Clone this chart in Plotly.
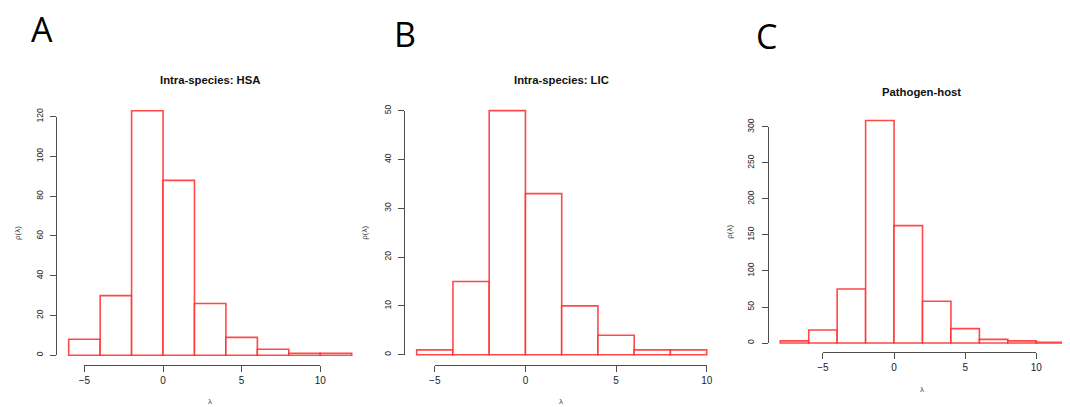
import plotly.graph_objects as go

# The page body adds an 8 px margin, so the figure is drawn 8 px in from the
# window's corner; all positions below are given in window pixels.
OFF = 8
W, H = 1070 - OFF, 407 - OFF

# ---- data (histogram counts) ----
hsa_edges = [-6, -4, -2, 0, 2, 4, 6, 8, 10, 12]
hsa_counts = [8, 30, 123, 88, 26, 9, 3, 1, 1]

lic_edges = [-6, -4, -2, 0, 2, 4, 6, 8, 10]
lic_counts = [1, 15, 50, 33, 10, 4, 1, 1]

ph_edges = [-8, -6, -4, -2, 0, 2, 4, 6, 8, 10, 12]
ph_counts = [3, 18, 75, 309, 163, 58, 20, 5, 3, 1]

x_ticks = [-5, 0, 5, 10]
hsa_yticks = [0, 20, 40, 60, 80, 100, 120]
lic_yticks = [0, 10, 20, 30, 40, 50]
ph_yticks = [0, 50, 100, 150, 200, 250, 300]

titles = ["Intra-species: HSA", "Intra-species: LIC", "Pathogen-host"]
letters = ["A", "B", "C"]

# ---- layout geometry (window pixels) ----
panels = [
    dict(edges=hsa_edges, counts=hsa_counts, yt=hsa_yticks,
         px_x=(57.4, 363.0), px_y=(101, 365), xr=None, cx=210,
         title_y=80, letter=(42, 29), ylab_x=17, xlab_y=401),
    dict(edges=lic_edges, counts=lic_counts, yt=lic_yticks,
         px_x=(405.1, 718.3), px_y=(100.9, 364.5), xr=None, cx=561,
         title_y=80, letter=(405, 34), ylab_x=365, xlab_y=401),
    dict(edges=ph_edges, counts=ph_counts, yt=ph_yticks,
         px_x=(768.9, 1070), px_y=(111.6, 351.9), xr=(-8.8, 12.37), cx=921.7,
         title_y=92, letter=(766, 36), ylab_x=730, xlab_y=389),
]


def px2x(px):
    return (px - OFF) / W


def px2y(py):
    return 1 - (py - OFF) / H


RED = "rgba(255,40,40,0.85)"
AXC = "#4d4d4d"
FONT = "Liberation Sans, Arial, sans-serif"

fig = go.Figure()
layout = dict(width=W, height=H, margin=dict(l=0, r=0, t=0, b=0, autoexpand=False),
              paper_bgcolor="white", plot_bgcolor="rgba(0,0,0,0)", showlegend=False,
              annotations=[])

for i, p in enumerate(panels):
    n = "" if i == 0 else str(i + 1)
    h = str(i + 4)
    xa, ya = "x" + n, "y" + n
    e = p["edges"]
    centers = [(e[k] + e[k + 1]) / 2 for k in range(len(e) - 1)]
    widths = [e[k + 1] - e[k] for k in range(len(e) - 1)]
    fig.add_trace(go.Bar(x=centers, y=p["counts"], width=widths,
                         marker=dict(color="white", line=dict(color=RED, width=1.6)),
                         xaxis=xa, yaxis=ya, hoverinfo="x+y"))
    # invisible anchor trace so the R-style axes below are drawn
    fig.add_trace(go.Scatter(x=[x_ticks[0]], y=[p["yt"][0]], mode="markers",
                             marker=dict(opacity=0), hoverinfo="skip",
                             xaxis="x" + h, yaxis="y" + h))
    span = e[-1] - e[0]
    xr = p["xr"] if p["xr"] else (e[0] - 0.04 * span, e[-1] + 0.04 * span)
    ymax = max(p["counts"])
    yr = (-0.04 * ymax, 1.04 * ymax)
    dx = (px2x(p["px_x"][0]), min(1.0, px2x(p["px_x"][1])))
    dy = (px2y(p["px_y"][1]), px2y(p["px_y"][0]))

    def xp(v):
        return dx[0] + (v - xr[0]) / (xr[1] - xr[0]) * (dx[1] - dx[0])

    def yp(v):
        return dy[0] + (v - yr[0]) / (yr[1] - yr[0]) * (dy[1] - dy[0])

    common = dict(showgrid=False, zeroline=False, automargin=False, fixedrange=True)
    # data axes (no visible decorations)
    layout["xaxis" + n] = dict(domain=dx, range=list(xr), anchor=ya,
                               showline=False, ticks="", showticklabels=False, **common)
    layout["yaxis" + n] = dict(domain=dy, range=list(yr), anchor=xa,
                               showline=False, ticks="", showticklabels=False, **common)
    # R-style detached axes spanning only first..last tick
    layout["xaxis" + h] = dict(domain=[xp(x_ticks[0]), xp(x_ticks[-1])],
                               range=[x_ticks[0], x_ticks[-1]], anchor=ya,
                               showline=True, linecolor=AXC, linewidth=1.2,
                               tickvals=x_ticks, ticks="outside", ticklen=6,
                               tickcolor=AXC, tickwidth=1.2,
                               tickfont=dict(family=FONT, size=10, color="#222"),
                               **common)
    layout["yaxis" + h] = dict(domain=[yp(p["yt"][0]), yp(p["yt"][-1])],
                               range=[p["yt"][0], p["yt"][-1]], anchor=xa,
                               showline=True, linecolor=AXC, linewidth=1.2,
                               tickvals=p["yt"], ticks="outside", ticklen=6,
                               tickcolor=AXC, tickwidth=1.2, tickangle=-90,
                               ticklabelstandoff=4,
                               tickfont=dict(family=FONT, size=8.5, color="#222"),
                               **common)

    cx = p["cx"]
    mid_y = (p["px_y"][0] + p["px_y"][1]) / 2
    anns = layout["annotations"]
    anns.append(dict(text="<b>" + titles[i] + "</b>", x=px2x(cx), y=px2y(p["title_y"]),
                     xref="paper", yref="paper", showarrow=False,
                     xanchor="center", yanchor="middle",
                     font=dict(family=FONT, size=11.3, color="#111")))
    anns.append(dict(text="λ", x=px2x(cx), y=px2y(p["xlab_y"]),
                     xref="paper", yref="paper", showarrow=False,
                     xanchor="center", yanchor="middle",
                     font=dict(family=FONT, size=8, color="#444")))
    anns.append(dict(text="ρ(λ)", x=px2x(p["ylab_x"]), y=px2y(mid_y), textangle=-90,
                     xref="paper", yref="paper", showarrow=False,
                     xanchor="center", yanchor="middle",
                     font=dict(family=FONT, size=8, color="#444")))
    anns.append(dict(text=letters[i], x=px2x(p["letter"][0]), y=px2y(p["letter"][1]),
                     xref="paper", yref="paper", showarrow=False,
                     xanchor="center", yanchor="middle", height=34, valign="middle",
                     font=dict(family="Open Sans, sans-serif", size=34, color="black")))

fig.update_layout(**layout)
fig.write_html("out.html")
